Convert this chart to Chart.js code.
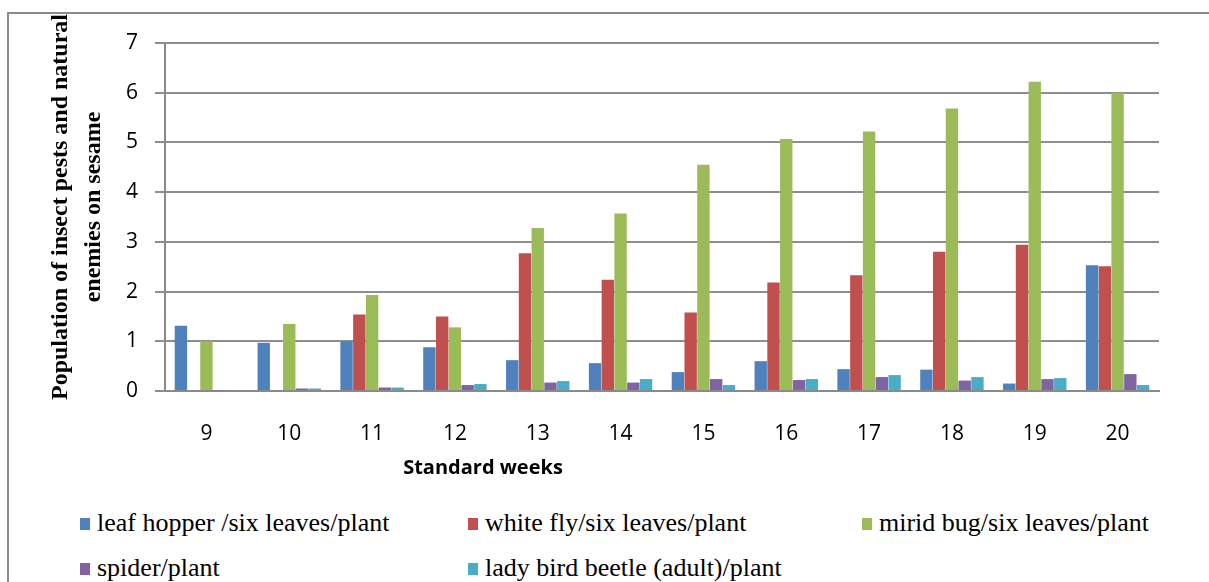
<!DOCTYPE html>
<html>
<head>
<meta charset="utf-8">
<script src="https://cdn.jsdelivr.net/npm/chart.js@4/dist/chart.umd.min.js"></script>
<style>
  html, body { margin:0; padding:0; width:1209px; height:582px; overflow:hidden; background:#fff; }
  #frame { position:absolute; left:7px; top:12px; width:1300px; height:700px; border:2px solid #8a8a8a; box-sizing:border-box; }
  #c { position:absolute; left:0; top:0; }
  .leg { position:absolute; font-family:"Liberation Serif","Times New Roman",serif; font-size:26px; color:#000; white-space:nowrap; line-height:30px; }
  .leg span.sw { display:inline-block; width:10px; height:12px; margin-right:7px; vertical-align:1px; }
</style>
</head>
<body>
<div id="frame"></div>
<canvas id="c" width="1209" height="480"></canvas>
<div id="legend"></div>
<script>
const weeks = ["9","10","11","12","13","14","15","16","17","18","19","20"];
const seriesNames = ["leaf hopper /six leaves/plant","white fly/six leaves/plant","mirid bug/six leaves/plant","spider/plant","lady bird beetle (adult)/plant"];
const leafHopper = [1.31, 0.97, 1.00, 0.88, 0.62, 0.56, 0.38, 0.60, 0.44, 0.43, 0.15, 2.53];
const whiteFly   = [0, 0, 1.54, 1.50, 2.77, 2.24, 1.58, 2.18, 2.33, 2.80, 2.94, 2.51];
const miridBug   = [1.00, 1.35, 1.93, 1.28, 3.28, 3.57, 4.55, 5.07, 5.22, 5.68, 6.22, 6.00];
const spider     = [0.01, 0.05, 0.07, 0.12, 0.17, 0.17, 0.24, 0.22, 0.28, 0.21, 0.24, 0.34];
const ladyBird   = [0, 0.05, 0.07, 0.14, 0.20, 0.24, 0.12, 0.24, 0.32, 0.28, 0.26, 0.12];
const colors = ["#4F81BD","#C0504D","#9BBB59","#8064A2","#4BACC6"];
const yTitle = ["Population of insect pests and natural","enemies on sesame"];
const xTitle = "Standard weeks";

const seriesData = [leafHopper, whiteFly, miridBug, spider, ladyBird];
const datasets = seriesNames.map((n,i)=>({
  label:n, data:seriesData[i], backgroundColor:colors[i],
  categoryPercentage:0.77, barPercentage:0.97
}));

const titlePlugin = {
  id:'titles',
  afterDraw(chart){
    const ctx = chart.ctx;
    ctx.save();
    ctx.fillStyle = '#000';
    ctx.textAlign = 'center';
    ctx.textBaseline = 'middle';
    ctx.font = 'bold 24px "Liberation Serif", "Times New Roman", serif';
    const cy = 207;
    const xs = [61, 94];
    yTitle.forEach((t,i)=>{
      ctx.save();
      ctx.translate(xs[i], cy);
      ctx.rotate(-Math.PI/2);
      ctx.fillText(t, 0, 0);
      ctx.restore();
    });
    ctx.font = 'bold 20px "Open Sans", sans-serif';
    ctx.fillText(xTitle, 483, 468);
    ctx.restore();
  }
};

new Chart(document.getElementById('c'), {
  type:'bar',
  data:{ labels:weeks, datasets },
  options:{
    responsive:false, animation:false, devicePixelRatio:1,
    layout:{ padding:{ top:43, right:50, left:0, bottom:0 } },
    plugins:{ legend:{ display:false }, tooltip:{ enabled:false } },
    scales:{
      x:{
        grid:{ display:false, drawTicks:false },
        border:{ display:true, color:'#8a8a8a', width:2 },
        ticks:{ color:'#000', padding:30, font:{ family:'"Open Sans", sans-serif', size:21 } },
        afterFit(s){ s.height = 89; }
      },
      y:{
        min:0, max:7,
        ticks:{ stepSize:1, color:'#000', padding:17, font:{ family:'"Open Sans", sans-serif', size:21 } },
        grid:{ color:'#8e8e8e', lineWidth:2, tickLength:10 },
        border:{ display:true, color:'#8a8a8a', width:2 },
        afterFit(s){ s.width = 165; }
      }
    }
  },
  plugins:[titlePlugin]
});

// HTML legend built from the datasets
const legPos = [[80,508],[468,508],[862,508],[80,553],[468,553]];
const legDiv = document.getElementById('legend');
seriesNames.forEach((n,i)=>{
  const d = document.createElement('div');
  d.className = 'leg';
  d.style.left = legPos[i][0] + 'px';
  d.style.top = legPos[i][1] + 'px';
  const sw = document.createElement('span');
  sw.className = 'sw';
  sw.style.background = colors[i];
  d.appendChild(sw);
  d.appendChild(document.createTextNode(n));
  legDiv.appendChild(d);
});
</script>
</body>
</html>
